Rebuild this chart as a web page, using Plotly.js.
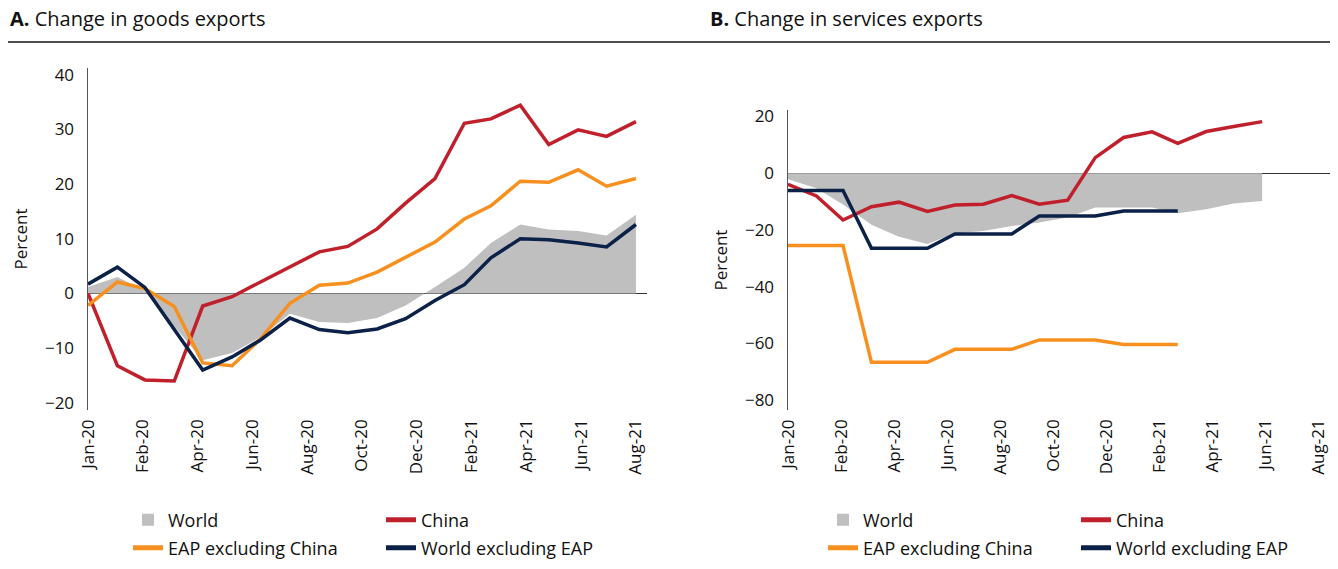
<!DOCTYPE html>
<html><head><meta charset="utf-8">
<script src="https://cdn.plot.ly/plotly-3.0.1.min.js"></script>
<style>html,body{margin:0;padding:0;background:#fff}#chart{width:1338px;height:569px}</style>
</head><body><div id="chart"></div>
<script>
// Monthly dates
const monthsGoods = ['2020-01-01','2020-02-01','2020-03-01','2020-04-01','2020-05-01','2020-06-01','2020-07-01','2020-08-01','2020-09-01','2020-10-01','2020-11-01','2020-12-01','2021-01-01','2021-02-01','2021-03-01','2021-04-01','2021-05-01','2021-06-01','2021-07-01','2021-08-01'];
const monthsServices = ['2020-01-01','2020-02-01','2020-03-01','2020-04-01','2020-05-01','2020-06-01','2020-07-01','2020-08-01','2020-09-01','2020-10-01','2020-11-01','2020-12-01','2021-01-01','2021-02-01','2021-03-01','2021-04-01','2021-05-01','2021-06-01'];
const monthsServicesShort = ['2020-01-01','2020-02-01','2020-03-01','2020-04-01','2020-05-01','2020-06-01','2020-07-01','2020-08-01','2020-09-01','2020-10-01','2020-11-01','2020-12-01','2021-01-01','2021-02-01','2021-03-01'];

// Panel A: goods exports (percent)
const goodsWorld = [1.2, 3.0, 0.5, -6.0, -12.2, -10.9, -8.0, -3.7, -5.2, -5.4, -4.5, -2.2, 1.2, 4.7, 9.2, 12.6, 11.7, 11.4, 10.6, 14.4];
const goodsChina = [0, -13.2, -15.8, -16.0, -2.3, -0.6, 2.1, 4.8, 7.6, 8.6, 11.8, 16.5, 21.0, 31.1, 31.9, 34.4, 27.2, 29.9, 28.7, 31.4];
const goodsEAPexChina = [-2.2, 2.1, 0.9, -2.4, -12.7, -13.2, -8.3, -1.8, 1.5, 1.9, 3.9, 6.6, 9.4, 13.6, 16.0, 20.5, 20.3, 22.6, 19.6, 21.0];
const goodsWorldExEAP = [1.7, 4.8, 1.1, -6.7, -14.0, -11.6, -8.5, -4.5, -6.6, -7.2, -6.5, -4.6, -1.3, 1.6, 6.5, 10.0, 9.8, 9.2, 8.5, 12.6];

// Panel B: services exports (percent)
const servWorld = [-2.1, -5.3, -11.0, -18.2, -22.4, -25.0, -21.2, -20.4, -18.6, -17.4, -15.6, -12.1, -12.1, -12.1, -14.1, -12.7, -10.7, -9.8];
const servChina = [-3.9, -8.0, -16.5, -11.8, -10.2, -13.5, -11.2, -10.9, -7.9, -10.9, -9.5, 5.5, 12.6, 14.6, 10.5, 14.7, 16.5, 18.2];
const servEAPexChina = [-25.5, -25.5, -25.5, -66.7, -66.7, -66.7, -62.1, -62.1, -62.1, -58.8, -58.8, -58.8, -60.4, -60.4, -60.4];
const servWorldExEAP = [-6.1, -6.1, -6.1, -26.5, -26.5, -26.5, -21.4, -21.4, -21.4, -15.1, -15.1, -15.1, -13.3, -13.3, -13.3];

const seriesNames = ['World', 'China', 'EAP excluding China', 'World excluding EAP'];
const panelTitles = ['<b>A.</b> Change in goods exports', '<b>B.</b> Change in services exports'];
const yTitle = 'Percent';

const C = {world:'#bfbfbf', china:'#c0202b', eap:'#f7901e', wex:'#0b2148'};
const FONT = 'Open Sans, Noto Sans, sans-serif';
const W = 1338, H = 569;
const px = v => v / W, py = v => 1 - v / H;

function lineTrace(x, y, name, color, xa, ya, leg) {
  return {type:'scatter', mode:'lines', x:x, y:y, name:name, xaxis:xa, yaxis:ya, legend:leg,
    line:{color:color, width:3.5}, hoverinfo:'skip'};
}
function areaTrace(x, y, xa, ya) {
  return {type:'scatter', mode:'none', x:x, y:y, fill:'tozeroy', fillcolor:C.world,
    xaxis:xa, yaxis:ya, showlegend:false, hoverinfo:'skip'};
}
function legendProxy(x, y, name, xa, ya, leg) {
  return {type:'scatter', mode:'markers', x:x, y:y, name:name, xaxis:xa, yaxis:ya, legend:leg,
    marker:{symbol:'square', size:0.01, color:C.world, line:{width:0}}, hoverinfo:'skip'};
}

const data = [
  areaTrace(monthsGoods, goodsWorld, 'x', 'y'),
  legendProxy(monthsGoods, goodsWorld, seriesNames[0], 'x', 'y', 'legend'),
  lineTrace(monthsGoods, goodsChina, seriesNames[1], C.china, 'x', 'y', 'legend'),
  lineTrace(monthsGoods, goodsEAPexChina, seriesNames[2], C.eap, 'x', 'y', 'legend2'),
  lineTrace(monthsGoods, goodsWorldExEAP, seriesNames[3], C.wex, 'x', 'y', 'legend2'),

  areaTrace(monthsServices, servWorld, 'x2', 'y2'),
  legendProxy(monthsServices, servWorld, seriesNames[0], 'x2', 'y2', 'legend3'),
  lineTrace(monthsServices, servChina, seriesNames[1], C.china, 'x2', 'y2', 'legend3'),
  lineTrace(monthsServicesShort, servEAPexChina, seriesNames[2], C.eap, 'x2', 'y2', 'legend4'),
  lineTrace(monthsServicesShort, servWorldExEAP, seriesNames[3], C.wex, 'x2', 'y2', 'legend4')
];

const DTICK = 57.8 * 86400000;
function xAxis(domain, rangeEnd, anchor) {
  return {domain:domain, anchor:anchor, type:'date', range:['2020-01-01', rangeEnd],
    tickmode:'linear', tick0:'2020-01-01', dtick:DTICK, tickformat:'%b-%y', tickangle:-90,
    showgrid:false, zeroline:false, showline:false, ticks:'', ticklabelstandoff:5,
    tickfont:{family:FONT, size:17, color:'#111'}, fixedrange:true};
}
function yAxis(domain, range, dtick, anchor) {
  return {domain:domain, anchor:anchor, range:range, dtick:dtick, tick0:0,
    showgrid:false, zeroline:true, zerolinecolor:'#333', zerolinewidth:1.2,
    showline:true, linecolor:'#555', linewidth:1.5, ticks:'', ticklabelstandoff:9,
    tickfont:{family:FONT, size:17, color:'#111'},
    title:{text:yTitle, font:{family:FONT, size:17, color:'#111'}, standoff:13}, fixedrange:true};
}
function legendRow(x, y) {
  return {x:x, y:y, xanchor:'left', yanchor:'middle', orientation:'h', entrywidth:208,
    bgcolor:'rgba(0,0,0,0)', borderwidth:0, itemsizing:'constant', itemclick:false, itemdoubleclick:false,
    font:{family:FONT, size:18, color:'#111'}};
}

const layout = {
  width:W, height:H, margin:{l:0, r:0, t:0, b:0}, paper_bgcolor:'#fff', plot_bgcolor:'#fff',
  showlegend:true,
  xaxis: xAxis([px(88), px(647)], '2021-08-12 16:00', 'y'),
  yaxis: yAxis([py(410), py(68)], [-21.3, 41.2], 10, 'x'),
  xaxis2: xAxis([px(788), px(1330)], '2021-08-14', 'y2'),
  yaxis2: yAxis([py(410), py(110)], [-83.5, 22.3], 20, 'x2'),
  legend: legendRow(px(128), py(520)),
  legend2: legendRow(px(128), py(548)),
  legend3: legendRow(px(823), py(520)),
  legend4: legendRow(px(823), py(548)),
  shapes:[{type:'line', xref:'paper', yref:'paper', x0:px(8), x1:px(1330), y0:py(42), y1:py(42),
    line:{color:'#4d4d4d', width:2}}],
  annotations:[
    {xref:'paper', yref:'paper', x:px(8), y:py(19), xanchor:'left', yanchor:'middle', showarrow:false,
     text:panelTitles[0], font:{family:FONT, size:20, color:'#111'}},
    {xref:'paper', yref:'paper', x:px(708), y:py(19), xanchor:'left', yanchor:'middle', showarrow:false,
     text:panelTitles[1], font:{family:FONT, size:20, color:'#111'}}
  ]
};

Plotly.newPlot('chart', data, layout, {displayModeBar:false, staticPlot:true});
</script>
</body></html>
